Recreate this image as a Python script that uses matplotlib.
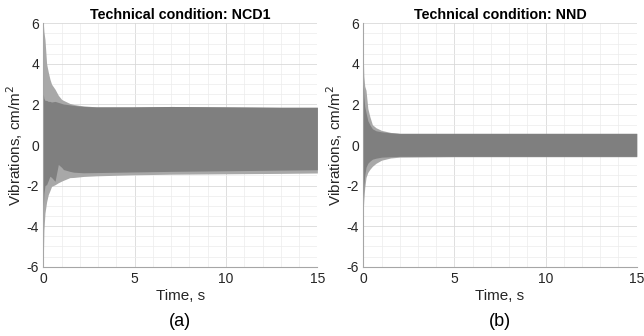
import numpy as np
import matplotlib
matplotlib.use("Agg")
import matplotlib.pyplot as plt
from matplotlib.ticker import MultipleLocator

plt.rcParams['font.family'] = ['Liberation Sans', 'DejaVu Sans']
plt.rcParams['axes.unicode_minus'] = False

# Envelope of the vibration signal, panel (a) NCD1
t_a = [0, 0.03, 0.09, 0.18, 0.27, 0.36, 0.45, 0.64, 0.82, 1.0, 1.1, 1.45, 1.66, 2.0, 2.2, 2.9, 4.9, 7, 10, 13, 15]
a_up_outer = [6.0, 5.6, 5.2, 4.0, 3.6, 3.25, 3.0, 2.75, 2.45, 2.25, 2.2, 2.05, 2.0, 1.95, 1.93, 1.88, 1.88, 1.9, 1.88, 1.86, 1.86]
a_up_inner = [2.5, 2.3, 2.2, 2.2, 2.15, 2.15, 2.12, 2.15, 2.1, 2.05, 2.02, 1.98, 1.95, 1.92, 1.9, 1.88, 1.88, 1.9, 1.88, 1.86, 1.86]
a_lo_outer = [-5.6, -4.2, -3.35, -2.8, -2.45, -2.25, -2.04, -1.96, -1.86, -1.78, -1.74, -1.61, -1.6, -1.57, -1.55, -1.52, -1.47, -1.44, -1.42, -1.4, -1.38]
a_lo_inner = [-3.0, -2.4, -2.0, -1.95, -1.75, -1.54, -1.6, -1.79, -0.96, -1.1, -1.21, -1.3, -1.34, -1.36, -1.37, -1.36, -1.33, -1.3, -1.27, -1.24, -1.22]

# Envelope of the vibration signal, panel (b) NND
t_b = [0, 0.03, 0.08, 0.15, 0.25, 0.36, 0.5, 0.7, 1.0, 1.5, 2.0, 5, 10, 15]
b_up_outer = [4.4, 3.4, 2.9, 2.7, 1.8, 1.4, 1.0, 0.85, 0.72, 0.62, 0.58, 0.58, 0.58, 0.58]
b_up_inner = [3.0, 2.4, 1.9, 1.6, 1.2, 1.0, 0.8, 0.7, 0.65, 0.6, 0.57, 0.57, 0.57, 0.57]
b_lo_outer = [-3.2, -2.7, -2.1, -1.6, -1.35, -1.2, -1.05, -0.9, -0.75, -0.64, -0.6, -0.58, -0.58, -0.58]
b_lo_inner = [-2.6, -2.0, -1.5, -1.1, -0.9, -0.8, -0.7, -0.65, -0.6, -0.58, -0.56, -0.56, -0.56, -0.56]

titles = ["Technical condition: NCD1", "Technical condition: NND"]
panel_labels = ["(a)", "(b)"]

light = "#a8a8a8"
dark = "#7f7f7f"

fig = plt.figure(figsize=(6.44, 3.36), dpi=100)
ax_a = fig.add_axes([0.0673, 0.2063, 0.4255, 0.7243])
ax_b = fig.add_axes([0.5641, 0.2063, 0.4246, 0.7243])

panels = [
    (ax_a, t_a, a_up_outer, a_up_inner, a_lo_outer, a_lo_inner),
    (ax_b, t_b, b_up_outer, b_up_inner, b_lo_outer, b_lo_inner),
]

for i, (ax, t, uo, ui, lo, li) in enumerate(panels):
    ax.fill_between(t, lo, uo, color=light, lw=0, zorder=2)
    ax.fill_between(t, li, ui, color=dark, lw=0, zorder=3)
    ax.set_xlim(0, 15)
    ax.set_ylim(-6, 6)
    ax.set_xticks([0, 5, 10, 15])
    ax.set_yticks([-6, -4, -2, 0, 2, 4, 6])
    ax.xaxis.set_minor_locator(MultipleLocator(1))
    ax.yaxis.set_minor_locator(MultipleLocator(0.5))
    ax.grid(True, which='major', color='#d9d9d9', lw=0.6, zorder=0)
    ax.grid(True, which='minor', color='#ececec', lw=0.5, zorder=0)
    ax.set_axisbelow(True)
    for s in ['top', 'right']:
        ax.spines[s].set_visible(False)
    for s in ['left', 'bottom']:
        ax.spines[s].set_color('#a6a6a6')
        ax.spines[s].set_linewidth(0.8)
    ax.tick_params(which='both', length=0, labelsize=10, labelcolor='#262626')
    ax.tick_params(axis='x', pad=4)
    ax.tick_params(axis='y', pad=3)
    ax.set_title(titles[i], fontsize=10.3, fontweight='bold', pad=3)
    ax.set_xlabel("Time, s", fontsize=11, color='#262626', labelpad=2)
    ax.set_ylabel("Vibrations, cm/m$^2$", fontsize=11, color='#262626')
    ax.yaxis.set_label_coords(-0.068, 0.5)
    ax.text(0.5, -0.19, panel_labels[i], transform=ax.transAxes, ha='center', va='top', fontsize=13)

fig.savefig("out.png", dpi=100)
